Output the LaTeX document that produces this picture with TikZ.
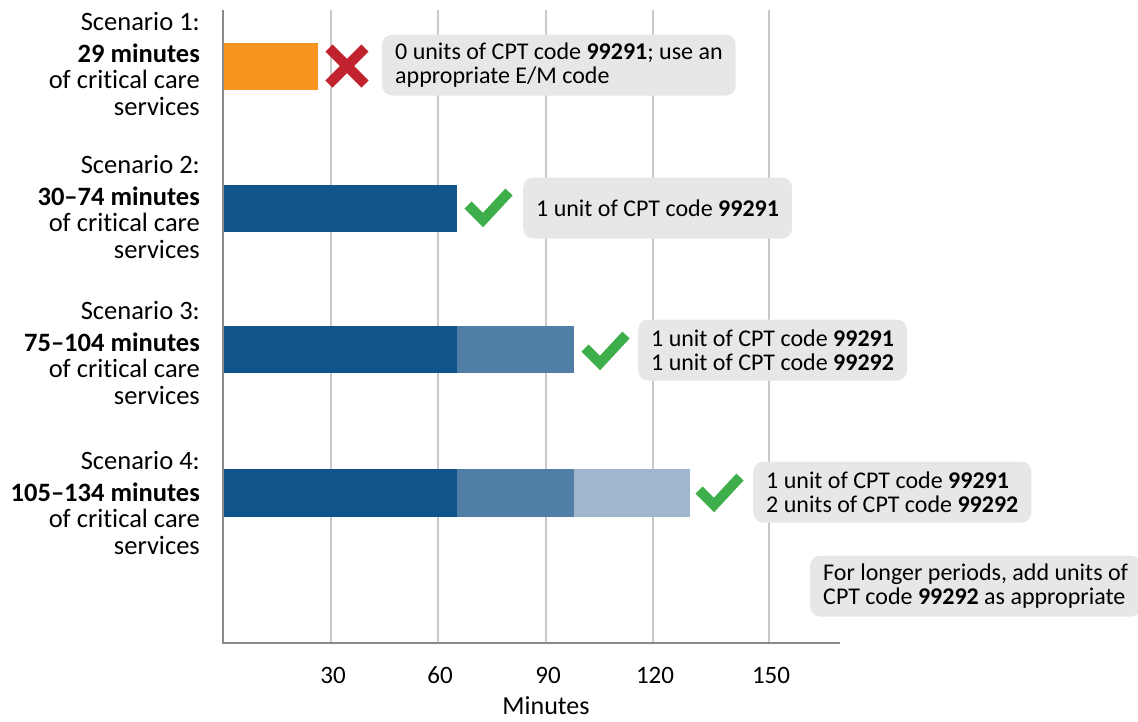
\documentclass[tikz,border=0pt]{standalone}
\usepackage{fontspec}
\setmainfont{Carlito}[Ligatures={TeX,NoCommon}]
\usetikzlibrary{positioning}
\definecolor[named]{CCOrange}{HTML}{F7941D}
\definecolor[named]{CCDark}{HTML}{11548B}
\definecolor[named]{CCMid}{HTML}{507EA6}
\definecolor[named]{CCLight}{HTML}{A0B6CD}
\definecolor[named]{CCRed}{HTML}{C1232E}
\definecolor[named]{CCGreen}{HTML}{3DAE49}
\definecolor[named]{CCBox}{HTML}{E6E7E8}
\definecolor[named]{CCGrid}{HTML}{C8C8C8}
\definecolor[named]{CCAxis}{HTML}{8A8A8A}
\newcommand{\kode}[1]{\textbf{#1}}
\newcommand{\okmark}[1]{%
  \draw[okline] #1 -- ++(15,15) -- ++(26,-28);
}
\newcommand{\nomark}[1]{%
  \draw[noline] #1 ++(-18,-18) -- ++(36,36);
  \draw[noline] #1 ++(18,-18) -- ++(-36,36);
}
\tikzset{
  callout/.style={fill=CCBox,rounded corners=10pt,anchor=west,align=left,
    inner xsep=13pt,inner ysep=0pt,minimum height=61pt,
    font=\fontsize{24}{24.5}\selectfont},
  scen/.style={anchor=east,align=right,inner sep=0pt,
    font=\fontsize{26.5}{26.5}\selectfont},
  ticklab/.style={inner sep=1pt,font=\fontsize{25}{26}\selectfont},
  okline/.style={draw=CCGreen,line width=10pt},
  noline/.style={draw=CCRed,line width=10pt},
}

\begin{document}
\begin{tikzpicture}[x=1pt,y=-1pt]
  \useasboundingbox (0,0) rectangle (1138,721);

  % grid
  \foreach \gx/\lab in {331/30,438/60,546/90,653/120,769/150} {
    \draw[CCGrid,line width=2pt] (\gx,10) -- (\gx,643);
    \node[ticklab] (tick\lab) at (\gx+2,675) {\lab};
  }
  \node[ticklab,font=\fontsize{26}{26}\selectfont] (xlabel) at (546,706) {Minutes};

  % bars
  \fill[CCOrange] (223,43) rectangle (318,90);
  \fill[CCDark] (223,185) rectangle (457,232);
  \fill[CCDark] (223,326) rectangle (457,373);
  \fill[CCMid] (457,326) rectangle (574,373);
  \fill[CCDark] (223,469) rectangle (457,517);
  \fill[CCMid] (457,469) rectangle (574,517);
  \fill[CCLight] (574,469) rectangle (690,517);

  % axes
  \draw[CCAxis,line width=2.5pt] (223,10) -- (223,643) -- (840,643);

  % marks
  \nomark{(347,66)}
  \okmark{(468,205)}
  \okmark{(585,348)}
  \okmark{(699,490)}

  % scenario labels
  \node[scen] (s1) at (200,64) {Scenario 1:\\[5pt]\textbf{29 minutes}\\of critical care\\services};
  \node[scen] (s2) at (200,207) {Scenario 2:\\[5pt]\textbf{30--74 minutes}\\of critical care\\services};
  \node[scen] (s3) at (200,353) {Scenario 3:\\[5pt]\textbf{75--104 minutes}\\of critical care\\services};
  \node[scen] (s4) at (200,503) {Scenario 4:\\[5pt]\textbf{105--134 minutes}\\of critical care\\services};

  % callouts
  \node[callout] (c1) at (382,65) {0 units of CPT code \kode{99291}; use an\\appropriate E/M code};
  \node[callout] (c2) at (523,208) {1 unit of CPT code \kode{99291}};
  \node[callout] (c3) at (638,350) {1 unit of CPT code \kode{99291}\\1 unit of CPT code \kode{99292}};
  \node[callout] (c4) at (753,492) {1 unit of CPT code \kode{99291}\\2 units of CPT code \kode{99292}};
  \node[callout] (c5) at (810,586) {For longer periods, add units of\\CPT code \kode{99292} as appropriate};
\end{tikzpicture}
\end{document}
